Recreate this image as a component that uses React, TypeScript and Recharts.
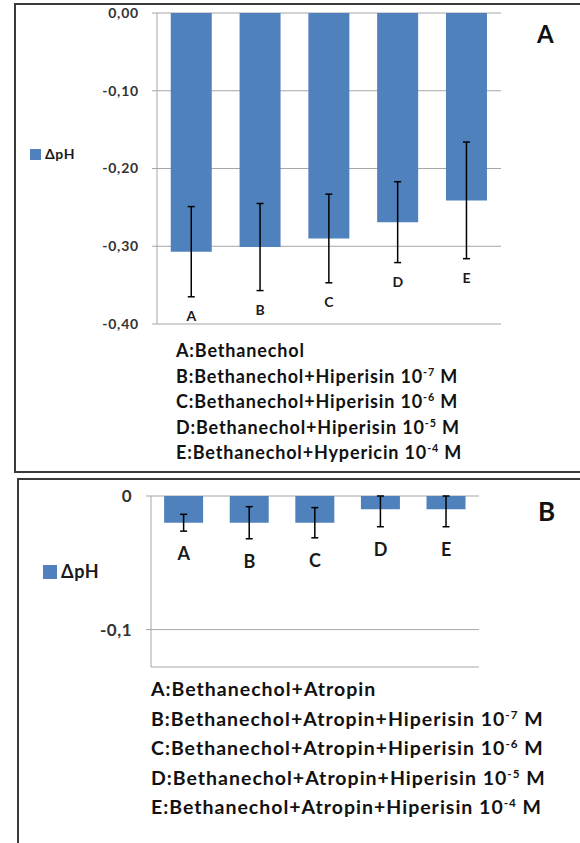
import { ComposedChart, Bar, Line, XAxis, YAxis, CartesianGrid, ErrorBar, Legend } from 'recharts';

const categories = ['A', 'B', 'C', 'D', 'E'];

// panel A: bethanechol alone / with hyperisin
const deltaPhA = [-0.307, -0.301, -0.29, -0.269, -0.241];
const errA = [0.058, 0.056, 0.057, 0.052, 0.075];
const ticksA = [0, -0.1, -0.2, -0.3, -0.4];

// panel B: with atropine (upper whisker of D, E stops at the 0 line)
const deltaPhB = [-0.02, -0.02, -0.02, -0.01, -0.01];
const errLowB = [0.0063, 0.012, 0.0113, 0.013, 0.013];
const errHighB = [0.0063, 0.012, 0.0113, 0.01, 0.01];
const ticksB = [0, -0.1];

const notesA = [
  { text: 'A:Bethanechol', exp: '' },
  { text: 'B:Bethanechol+Hiperisin 10', exp: '-7' },
  { text: 'C:Bethanechol+Hiperisin 10', exp: '-6' },
  { text: 'D:Bethanechol+Hiperisin 10', exp: '-5' },
  { text: 'E:Bethanechol+Hypericin 10', exp: '-4' }
];
const notesB = [
  { text: 'A:Bethanechol+Atropin', exp: '' },
  { text: 'B:Bethanechol+Atropin+Hiperisin 10', exp: '-7' },
  { text: 'C:Bethanechol+Atropin+Hiperisin 10', exp: '-6' },
  { text: 'D:Bethanechol+Atropin+Hiperisin 10', exp: '-5' },
  { text: 'E:Bethanechol+Atropin+Hiperisin 10', exp: '-4' }
];

const BLUE = '#4F81BD';
const GRID = '#a6a6a6';
const FONT = 'Lato, "Open Sans", sans-serif';

const rowsA = categories.map((name, i) => ({
  name,
  value: deltaPhA[i],
  err: errA[i],
  labelAt: deltaPhA[i] - errA[i]
}));
const rowsB = categories.map((name, i) => ({
  name,
  value: deltaPhB[i],
  err: [errLowB[i], errHighB[i]],
  labelAt: deltaPhB[i] - errLowB[i]
}));

const catLabel = (dy: number, size: number) => (props: any) => (
  <text
    x={props.x}
    y={props.y + dy}
    textAnchor="middle"
    fontFamily={FONT}
    fontWeight={700}
    fontSize={size}
    fill="#1a1a1a"
  >
    {categories[props.index]}
  </text>
);

const swatch = (box: number, size: number) => () => (
  <div style={{ display: 'flex', alignItems: 'center', gap: 4, fontFamily: FONT, fontWeight: 700, fontSize: size, color: '#1a1a1a', lineHeight: 1.2, letterSpacing: 0.6 }}>
    <span style={{ display: 'inline-block', width: box, height: box, background: BLUE }} />
    <span>ΔpH</span>
  </div>
);

function Notes({ items, left, top, size, lh, ls }: { items: typeof notesA; left: number; top: number; size: number; lh: number; ls: number }) {
  return (
    <div style={{ position: 'absolute', left, top, fontFamily: FONT, fontWeight: 700, fontSize: size, lineHeight: `${lh}px`, color: '#111', letterSpacing: ls, whiteSpace: 'nowrap' }}>
      {items.map(n => (
        <div key={n.text}>
          {n.text}
          {n.exp && <span style={{ fontSize: '0.6em', verticalAlign: 'super', lineHeight: 0 }}>{n.exp}</span>}
          {n.exp && ' M'}
        </div>
      ))}
    </div>
  );
}

export default function App() {
  return (
    <div style={{ position: 'absolute', left: 0, top: 0, width: 580, height: 843, overflow: 'hidden', background: '#fff' }}>
      <div style={{ position: 'absolute', left: 14, top: 3, width: 620, height: 470, boxSizing: 'border-box', border: '2px solid #3a3a3a' }} />
      <div style={{ position: 'absolute', left: 17, top: 478, width: 620, height: 420, boxSizing: 'border-box', border: '2px solid #3a3a3a' }} />

      <div style={{ position: 'absolute', left: 0, top: 0 }}>
        <ComposedChart width={580} height={470} data={rowsA} margin={{ top: 13, right: 79, bottom: 146, left: 97 }} barCategoryGap="20%">
          <CartesianGrid vertical={false} stroke={GRID} />
          <XAxis dataKey="name" hide />
          <YAxis
            width={60}
            domain={[-0.4, 0]}
            ticks={ticksA}
            interval={0}
            allowDataOverflow
            stroke={GRID}
            tickSize={5}
            tickMargin={13}
            tickFormatter={(v: number) => v.toFixed(2).replace('.', ',')}
            tick={{ fill: '#333', fontFamily: FONT, fontWeight: 700, fontSize: 14, letterSpacing: 0.8 }}
          />
          <Legend layout="horizontal" verticalAlign="middle" align="center" content={swatch(11, 14)} wrapperStyle={{ left: 30, top: 146, width: 'auto' }} />
          <Bar dataKey="value" fill={BLUE} isAnimationActive={false}>
            <ErrorBar dataKey="err" direction="y" width={3.5} strokeWidth={1.5} stroke="#000" isAnimationActive={false} />
          </Bar>
          <Line dataKey="labelAt" stroke="none" dot={false} activeDot={false} legendType="none" isAnimationActive={false} label={catLabel(24, 14)} />
        </ComposedChart>
      </div>

      <div style={{ position: 'absolute', left: 0, top: 470 }}>
        <ComposedChart width={580} height={230} data={rowsB} margin={{ top: 26, right: 101, bottom: 33, left: 91 }} barCategoryGap="20%">
          <CartesianGrid vertical={false} stroke={GRID} />
          <XAxis dataKey="name" hide />
          <YAxis
            width={60}
            domain={[-0.128, 0]}
            ticks={ticksB}
            interval={0}
            allowDataOverflow
            stroke={GRID}
            tickSize={5}
            tickMargin={14}
            tickFormatter={(v: number) => (v === 0 ? '0' : String(v).replace('.', ','))}
            tick={{ fill: '#333', fontFamily: FONT, fontWeight: 700, fontSize: 17, letterSpacing: 0.5 }}
          />
          <Legend layout="horizontal" verticalAlign="middle" align="center" content={swatch(14, 18)} wrapperStyle={{ left: 43, top: 91, width: 'auto' }} />
          <Bar dataKey="value" fill={BLUE} isAnimationActive={false}>
            <ErrorBar dataKey="err" direction="y" width={3.5} strokeWidth={1.5} stroke="#000" isAnimationActive={false} />
          </Bar>
          <Line dataKey="labelAt" stroke="none" dot={false} activeDot={false} legendType="none" isAnimationActive={false} label={catLabel(29, 18)} />
        </ComposedChart>
      </div>

      <div style={{ position: 'absolute', left: 537, top: 22, fontFamily: FONT, fontWeight: 700, fontSize: 24, lineHeight: '24px', color: '#111' }}>A</div>
      <div style={{ position: 'absolute', left: 538, top: 498, fontFamily: FONT, fontWeight: 700, fontSize: 26, lineHeight: '26px', color: '#111' }}>B</div>

      <Notes items={notesA} left={176} top={338} size={18} lh={25.5} ls={0.85} />
      <Notes items={notesB} left={151} top={674} size={19.5} lh={29.5} ls={1} />
    </div>
  );
}
